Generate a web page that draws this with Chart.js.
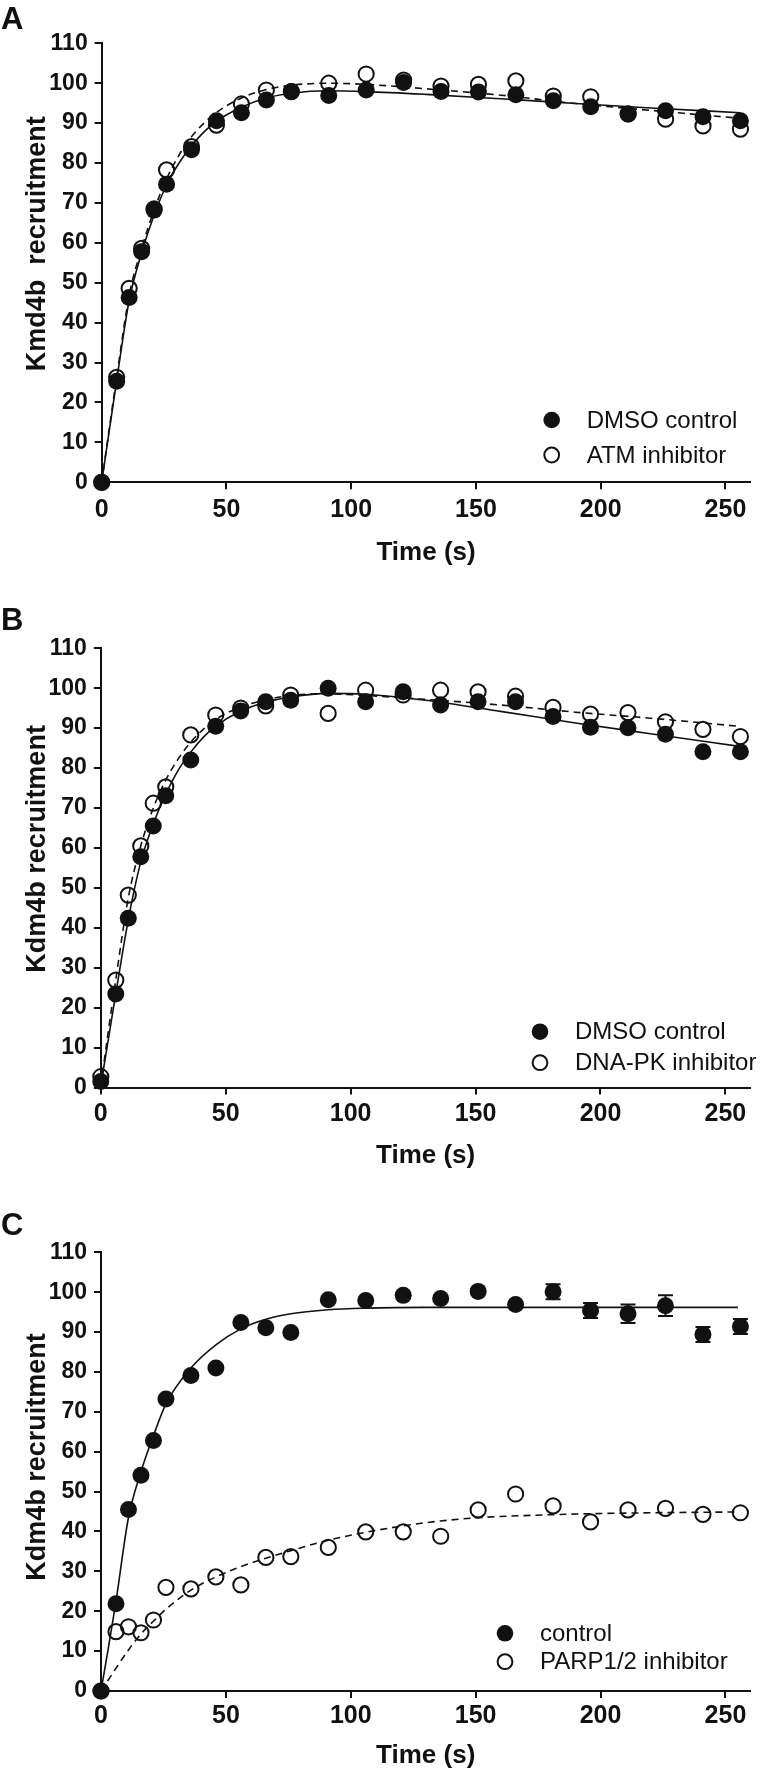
<!DOCTYPE html>
<html>
<head>
<meta charset="utf-8">
<script src="https://cdn.jsdelivr.net/npm/chart.js@4.4.1/dist/chart.umd.min.js"></script>
<style>
  html, body { margin: 0; padding: 0; background: #fff; }
  body { width: 760px; height: 1775px; position: relative; overflow: hidden; }
  canvas { position: absolute; left: 0; }
</style>
</head>
<body>
<canvas id="chartA" width="760" height="590" style="top:0px"></canvas>
<canvas id="chartB" width="760" height="600" style="top:590px"></canvas>
<canvas id="chartC" width="760" height="585" style="top:1190px"></canvas>
<script>
// time points (s), same sampling in all three panels
var times = [0, 6, 11, 16, 21, 26, 36, 46, 56, 66, 76, 91, 106, 121, 136, 151, 166, 181, 196, 211, 226, 241, 256];

// panel A
var dmsoA = [0, 25.3, 46.3, 57.8, 68.2, 74.7, 83.3, 90.6, 92.6, 95.8, 97.9, 96.9, 98.3, 100.2, 97.9, 97.8, 97.1, 95.6, 94.1, 92.3, 93.1, 91.6, 90.6];
var atmA  = [0, 26.3, 48.6, 58.6, 68.5, 78.3, 84.1, 89.5, 94.8, 98.3, 97.9, 100, 102.3, 100.8, 99.3, 99.7, 100.6, 96.8, 96.6, 92.3, 91.0, 89.3, 88.5];
// fitted curves
var fitTimesA = [0, 3, 6, 11, 16, 21, 26, 31, 36, 41, 46, 56, 66, 76, 91, 106, 130, 160, 190, 220, 256];
var fitDmsoA  = [0, 12.8, 25.5, 45.5, 57.5, 67, 74.5, 80, 84.3, 87.8, 90.5, 94, 96.3, 97.5, 98.1, 97.9, 97.2, 96.1, 94.9, 93.8, 92.6];
var fitAtmA   = [0, 13.3, 26.3, 46.8, 58.6, 68.2, 76, 82, 86.6, 90, 92.7, 96.3, 98.4, 99.5, 100, 99.7, 98.6, 97, 94.9, 93.2, 91.2];

// panel B
var dmsoB  = [1.5, 23.4, 42.4, 57.8, 65.5, 73.1, 82.0, 90.5, 94.3, 96.6, 97.0, 100, 96.6, 99.1, 95.8, 96.6, 96.6, 92.9, 90.2, 90.1, 88.5, 84.1, 84.1];
var dnapkB = [2.7, 26.9, 48.2, 60.5, 71.2, 75.3, 88.3, 93.3, 95.0, 95.6, 98.3, 93.7, 99.5, 98.3, 99.5, 99.1, 98.0, 95.2, 93.5, 93.9, 91.6, 89.7, 87.9];
var fitTimesB = [0, 3, 6, 11, 16, 21, 26, 31, 36, 41, 46, 56, 66, 76, 91, 106, 130, 160, 190, 220, 255];
var fitDmsoB  = [0.5, 12, 23.5, 42, 56.5, 66, 73.5, 79.5, 84, 87.7, 90.5, 94.3, 96.5, 97.8, 98.7, 98.5, 97, 94.2, 91.3, 88.6, 85.5];
var fitDnapkB = [0.5, 14, 27, 47.5, 60.5, 70, 77, 82.3, 86.5, 89.7, 92.2, 95.3, 97.1, 98.2, 98.6, 98.2, 97.2, 95.8, 94.0, 92.5, 90.5];

// panel C
var ctrlC    = [0, 21.9, 45.5, 54.1, 62.8, 73.2, 79.1, 81.0, 92.4, 91.1, 89.9, 98.1, 97.9, 99.2, 98.4, 100.2, 96.9, 100.1, 95.4, 94.6, 96.6, 89.4, 91.4];
var ctrlErrC = [0, 0, 0, 0, 0, 0, 0, 0, 0, 0, 0, 0, 0, 0, 0, 0, 0, 1.9, 1.9, 2.3, 2.6, 1.9, 1.9];
var parpC    = [0, 14.9, 16.1, 14.6, 17.8, 26.0, 25.6, 28.6, 26.6, 33.5, 33.7, 36.0, 39.9, 39.9, 38.8, 45.4, 49.4, 46.4, 42.4, 45.4, 45.8, 44.3, 44.7];
var fitTimesCtrlC = [0, 3, 6, 11, 16, 21, 26, 36, 46, 56, 66, 76, 91, 106, 130, 160, 200, 255];
var fitCtrlC      = [0, 11, 22.5, 43.5, 55, 64, 72, 81, 86.8, 90.8, 93.2, 94.6, 95.6, 96, 96.2, 96.2, 96.2, 96.2];
var fitTimesParpC = [0, 6, 11, 16, 21, 26, 36, 46, 56, 66, 76, 91, 106, 130, 150, 180, 210, 255];
var fitParpC      = [0, 5.7, 10.3, 14.3, 17.5, 20.5, 25.3, 28.6, 31.2, 33.3, 35.2, 37.8, 39.8, 42.2, 43.4, 44.2, 44.6, 44.9];

var xTicksMax = 260;
var yTicksMax = 110;

var ink = '#111';
var FONT = '"Liberation Sans", Arial, Helvetica, sans-serif';
Chart.defaults.font.family = FONT;
Chart.defaults.color = ink;

function pts(xs, ys) {
  return xs.map(function(x, i) { return { x: x, y: ys[i] }; });
}

// letter, rotated y title, legend and error bars
var decor = {
  id: 'decor',
  beforeDatasetsDraw: function(chart) {
    var ctx = chart.ctx, xs = chart.scales.x, ys = chart.scales.y;
    chart.data.datasets.forEach(function(ds) {
      if (!ds.errors) return;
      ctx.save();
      ctx.strokeStyle = ink;
      ctx.lineWidth = 2;
      ds.data.forEach(function(p, i) {
        var e = ds.errors[i];
        if (!e) return;
        var px = xs.getPixelForValue(p.x);
        var top = ys.getPixelForValue(p.y + e), bot = ys.getPixelForValue(p.y - e);
        ctx.beginPath();
        ctx.moveTo(px, top); ctx.lineTo(px, bot);
        ctx.moveTo(px - 7.5, top); ctx.lineTo(px + 7.5, top);
        ctx.moveTo(px - 7.5, bot); ctx.lineTo(px + 7.5, bot);
        ctx.stroke();
      });
      ctx.restore();
    });
  },
  afterDraw: function(chart, args, o) {
    var ctx = chart.ctx, a = chart.chartArea;
    ctx.save();
    ctx.fillStyle = ink;
    ctx.strokeStyle = ink;
    ctx.font = 'bold 31px ' + FONT;
    ctx.textAlign = 'left';
    ctx.textBaseline = 'alphabetic';
    ctx.fillText(o.letter, 1, o.letterBase);

    ctx.save();
    ctx.translate(45, (a.top + a.bottom) / 2 + o.yTitleShift);
    ctx.rotate(-Math.PI / 2);
    ctx.font = 'bold 27px ' + FONT;
    ctx.textAlign = 'center';
    ctx.fillText(o.yTitle, 0, 0);
    ctx.restore();

    ctx.font = '24px ' + FONT;
    ctx.textBaseline = 'middle';
    var row = 0;
    chart.data.datasets.forEach(function(ds) {
      if (!ds.inLegend) return;
      var cy = o.legendY + row * o.legendGap;
      ctx.beginPath();
      if (ds.filled) {
        ctx.arc(o.legendX, cy, 8.3, 0, 2 * Math.PI);
        ctx.fill();
      } else {
        ctx.lineWidth = 2;
        ctx.arc(o.legendX, cy, 7.4, 0, 2 * Math.PI);
        ctx.stroke();
      }
      ctx.fillText(ds.label, o.legendX + 35, cy + 1);
      row++;
    });
    ctx.restore();
  }
};

function makePanel(id, p) {
  var datasets = [
    { label: p.names[0], data: pts(times, p.filled), errors: p.errors, inLegend: true, filled: true,
      pointRadius: 8.5, pointBackgroundColor: ink, pointBorderWidth: 0, order: 0, clip: false },
    { label: p.names[1], data: pts(times, p.open), inLegend: true, filled: false,
      pointRadius: 7.6, pointBackgroundColor: 'rgba(255,255,255,0)', pointBorderColor: ink, pointBorderWidth: 2, order: 1, clip: false },
    { label: 'fit1', data: pts(p.fitT1, p.fit1), showLine: true, pointRadius: 0, borderColor: ink, borderWidth: 1.6,
      cubicInterpolationMode: 'monotone', order: 2, clip: false },
    { label: 'fit2', data: pts(p.fitT2, p.fit2), showLine: true, pointRadius: 0, borderColor: ink, borderWidth: 1.6,
      borderDash: [7, 5], cubicInterpolationMode: 'monotone', order: 3, clip: false }
  ];
  return new Chart(document.getElementById(id), {
    type: 'scatter',
    data: { datasets: datasets },
    plugins: [decor],
    options: {
      responsive: false,
      animation: false,
      devicePixelRatio: 1,
      layout: { padding: { top: p.top, right: p.right, left: 0, bottom: 0 } },
      scales: {
        x: {
          type: 'linear', min: 0, max: xTicksMax,
          afterFit: function(s) { s.height = p.xHeight; },
          border: { display: true, color: ink, width: 2 },
          grid: { drawOnChartArea: false, drawTicks: true, tickLength: 7, color: ink, lineWidth: 2 },
          ticks: { stepSize: 50, includeBounds: false, padding: p.xPad, maxRotation: 0, color: ink,
                   font: { size: 25, weight: 'bold' } },
          title: { display: true, text: 'Time (s)', color: ink, font: { size: 26, weight: 'bold' },
                   padding: { top: 0, bottom: p.xTitlePad } }
        },
        y: {
          type: 'linear', min: 0, max: yTicksMax,
          afterFit: function(s) { s.width = p.left; },
          border: { display: true, color: ink, width: 2 },
          grid: { drawOnChartArea: false, drawTicks: true, tickLength: 7, color: ink, lineWidth: 2 },
          ticks: { stepSize: 10, padding: 7, color: ink, font: { size: 23, weight: 'bold' } }
        }
      },
      plugins: {
        legend: { display: false },
        tooltip: { enabled: false },
        decor: { letter: p.letter, letterBase: p.letterBase, yTitle: p.yTitle, yTitleShift: p.yTitleShift,
                 legendX: p.legendX, legendY: p.legendY, legendGap: p.legendGap }
      }
    }
  });
}

makePanel('chartA', {
  names: ['DMSO control', 'ATM inhibitor'], filled: dmsoA, open: atmA,
  fitT1: fitTimesA, fit1: fitDmsoA, fitT2: fitTimesA, fit2: fitAtmA,
  top: 43.3, right: 2, left: 101.7, xHeight: 107.7, xPad: 6, xTitlePad: 22,
  letter: 'A', letterBase: 28.5, yTitle: 'Kmd4b  recruitment', yTitleShift: -19,
  legendX: 551.7, legendY: 420, legendGap: 35
});

makePanel('chartB', {
  names: ['DMSO control', 'DNA-PK inhibitor'], filled: dmsoB, open: dnapkB,
  fitT1: fitTimesB, fit1: fitDmsoB, fitT2: fitTimesB, fit2: fitDnapkB,
  top: 58.3, right: 3, left: 100.8, xHeight: 102.5, xPad: 4.5, xTitlePad: 18.4,
  letter: 'B', letterBase: 40, yTitle: 'Kdm4b recruitment', yTitleShift: -19,
  legendX: 540, legendY: 441.7, legendGap: 31
});

makePanel('chartC', {
  names: ['control', 'PARP1/2 inhibitor'], filled: ctrlC, open: parpC, errors: ctrlErrC,
  fitT1: fitTimesCtrlC, fit1: fitCtrlC, fitT2: fitTimesParpC, fit2: fitParpC,
  top: 62.3, right: 3, left: 101, xHeight: 84, xPad: 3.5, xTitlePad: 3.6,
  letter: 'C', letterBase: 44.5, yTitle: 'Kdm4b recruitment', yTitleShift: -14.7,
  legendX: 505, legendY: 443.3, legendGap: 28.4
});
</script>
</body>
</html>
